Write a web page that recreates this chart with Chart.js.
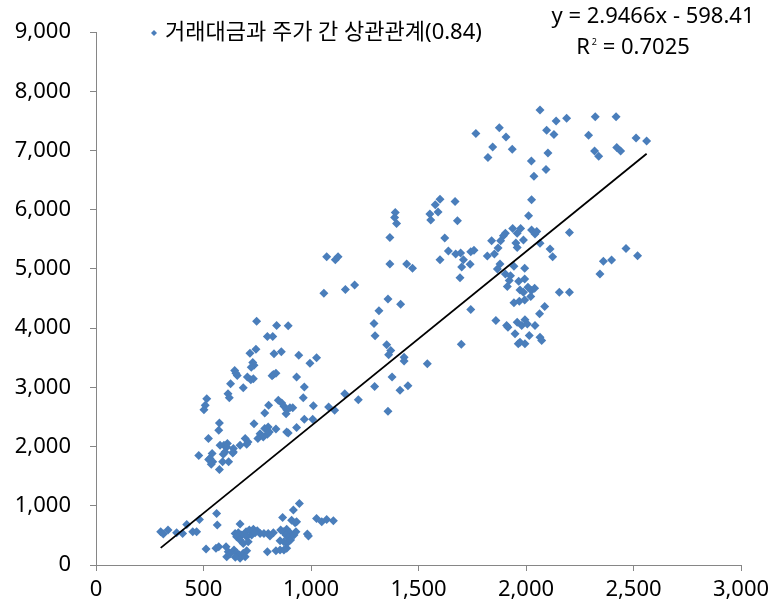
<!DOCTYPE html>
<html>
<head>
<meta charset="utf-8">
<script src="https://cdn.jsdelivr.net/npm/chart.js@4/dist/chart.umd.min.js"></script>
<style>
  html, body { margin: 0; padding: 0; background: #fff; }
  #wrap { width: 770px; height: 605px; }
</style>
</head>
<body>
<div id="wrap"><canvas id="scatter-chart" width="770" height="605"></canvas></div>
<script>
// 거래대금 (x) vs 주가 (y)
var tradeValue = [
    2065, 1767, 1876, 1907, 1845, 1823, 1936, 2140, 2189, 2096, 2130, 2102, 2025, 2037, 2093, 2026, 2012,
    2291, 2322, 2419, 2319, 2338, 2422, 2440, 2512, 2561, 2202,
    1600, 1670, 1681, 1622, 1600, 1639, 1673, 1696, 1743, 1758, 1709, 1740, 1701, 1693, 1743, 1699,
    1820, 1840, 1853, 1870, 1882, 1895, 1904, 1938, 1953, 1959, 1959, 1975, 1988, 2026, 2050, 2042, 2065,
    2112, 2124, 1879, 1867, 1944, 1994, 1904, 1928, 1922, 1913, 1966, 1994, 1972, 1988, 2009, 2025, 2040,
    2022, 1994, 1969, 1944, 2087, 2063, 2155, 2202, 1860, 1910, 1916, 1959, 1995, 1980, 2006, 2042, 1949,
    2015, 2065, 2073, 1964, 1995, 1972, 2465, 2360, 2398, 2344, 2519,
    1578, 1553, 1591, 1557, 1392, 1389, 1398, 1367, 1367, 1445, 1472, 1073, 1113, 1126, 1060, 1160, 1203,
    1358, 1417, 1316, 1293, 1298, 1352, 1371, 1361, 1433, 1433, 1541, 1377, 1296, 1414, 1451, 1358, 1157,
    1220, 1026, 995, 1011, 1082, 1110, 969, 964, 969, 1008,
    747, 840, 894, 797, 822, 716, 744, 828, 862, 943, 729, 735, 722, 645, 657, 651, 704, 720, 732, 825,
    837, 819, 933, 626, 685, 614, 620, 515, 508, 502, 848, 864, 874, 887, 884, 902, 803, 785, 915, 933,
    887, 894, 837, 785, 801, 763, 778, 797, 806, 753, 735, 694, 707, 701, 670, 639, 639, 611, 608, 595,
    574, 571, 523, 577, 600, 592, 636, 478, 540, 530, 543, 536, 524, 589, 617, 574,
    301, 313, 335, 375, 403, 422, 450, 468, 481, 561, 564, 512, 558, 571, 605, 615, 608, 623, 642, 654,
    667, 685, 670, 648, 701, 694, 647, 662, 678, 654, 670, 670, 698, 713, 732, 750, 763, 724, 740, 701,
    685, 708, 781, 801, 825, 809, 797, 837, 856, 868, 859, 871, 887, 902, 884, 895, 874, 856, 887, 905,
    921, 930, 910, 926, 933, 918, 946, 887, 874, 983, 988, 1026, 1050, 1073, 1104
];
var stockPrice = [
    7686, 7287, 7388, 7231, 7062, 6882, 7023, 7500, 7546, 7343, 7270, 6961, 6826, 6568, 6680, 6169, 5899,
    7259, 7573, 7573, 6995, 6905, 7051, 6995, 7214, 7163, 5618,
    6180, 6141, 5815, 5523, 5158, 5304, 5253, 5270, 5292, 5315, 5158, 5079, 5034, 4854, 4315, 3730,
    5219, 5478, 5253, 5354, 5478, 5562, 5602, 5686, 5439, 5365, 5602, 5686, 5489, 5658, 5635, 5591, 5433,
    5337, 5208, 5085, 5000, 5045, 5011, 4916, 4888, 4804, 4703, 4792, 4832, 4647, 4607, 4691, 4635, 4674,
    4534, 4478, 4455, 4428, 4366, 4242, 4607, 4607, 4129, 4045, 4017, 4101, 4141, 4045, 4073, 4045, 3905,
    3877, 3849, 3792, 3737, 3737, 3764, 5348, 5129, 5152, 4916, 5225,
    6085, 5928, 5962, 5827, 5955, 5871, 5770, 5534, 5085, 5085, 5011, 5208, 5158, 5208, 4590, 4652, 4731,
    4495, 4404, 4293, 4079, 3871, 3720, 3624, 3551, 3511, 3444, 3399, 3174, 3017, 2950, 3028, 2596, 2894,
    2793, 3501, 3410, 2692, 2669, 2612, 3006, 2826, 2461, 2461,
    4118, 4045, 4040, 3860, 3860, 3578, 3646, 3568, 3602, 3545, 3422, 3376, 3342, 3287, 3202, 3241, 3174, 3130, 3147, 3219,
    3241, 3197, 3174, 3062, 2995, 2894, 2826, 2810, 2697, 2624, 2781, 2736, 2680, 2624, 2557, 2658, 2697, 2567, 2658, 2321,
    2247, 2230, 2298, 2304, 2331, 2219, 2163, 2208, 2247, 2135, 2388, 2135, 2079, 2039, 2023, 1967, 1910, 2051, 1995, 2023,
    2399, 2275, 2135, 2023, 1910, 1871, 1893, 1849, 1883, 1798, 1742, 1702, 1781, 1742, 1742, 1613,
    562, 523, 590, 545, 534, 686, 562, 562, 770, 871, 674, 270, 281, 308, 308, 224, 140, 185, 253, 208,
    169, 197, 113, 130, 241, 140, 534, 545, 506, 477, 421, 691, 562, 590, 602, 579, 534, 506, 545, 477,
    365, 393, 534, 534, 545, 489, 224, 241, 253, 803, 590, 562, 602, 545, 506, 466, 393, 410, 365, 421,
    506, 562, 758, 714, 730, 927, 1039, 281, 253, 523, 489, 787, 730, 770, 747
];

// 추세선 y = 2.9466x - 598.41
var slope = 2.9466;
var intercept = -598.41;
var rSquared = 0.7025;

var points = [];
for (var i = 0; i < tradeValue.length; i++) {
    points.push({ x: tradeValue[i], y: stockPrice[i] });
}
var xMin = Math.min.apply(null, tradeValue);
var xMax = Math.max.apply(null, tradeValue);
var trendPoints = [
    { x: xMin, y: slope * xMin + intercept },
    { x: xMax, y: slope * xMax + intercept }
];

var dotColor = '#4A7EBB';
var axisColor = '#868686';
var textFont = '"Noto Sans", "Noto Sans CJK KR", sans-serif';

// legend + trendline equation drawn on top
var labelPlugin = {
    id: 'labelPlugin',
    afterDraw: function (chart) {
        var c = chart.ctx;
        c.save();
        c.fillStyle = dotColor;
        c.beginPath();
        c.moveTo(154, 30);
        c.lineTo(157, 33);
        c.lineTo(154, 36);
        c.lineTo(151, 33);
        c.closePath();
        c.fill();

        c.fillStyle = '#000';
        c.textBaseline = 'middle';
        c.font = '22px ' + textFont;
        c.textAlign = 'left';
        c.fillText(chart.data.datasets[0].label, 165, 33);

        c.textAlign = 'center';
        c.fillText('y = ' + slope + 'x - ' + Math.abs(intercept), 653, 17);

        var left = 'R', right = ' = ' + rSquared;
        var wl = c.measureText(left).width;
        var wr = c.measureText(right).width;
        c.font = '9px ' + textFont;
        var ws = c.measureText('2').width + 2;
        var start = 633 - (wl + ws + wr) / 2;
        c.textAlign = 'left';
        c.fillText('2', start + wl + 2, 42);
        c.font = '22px ' + textFont;
        c.fillText(left, start, 48);
        c.fillText(right, start + wl + ws, 48);
        c.restore();
    }
};

var tickFont = { family: textFont, size: 22 };

new Chart(document.getElementById('scatter-chart'), {
    type: 'scatter',
    data: {
        datasets: [{
            label: '거래대금과 주가 간 상관관계(0.84)',
            data: points,
            pointStyle: 'rectRot',
            pointRadius: 4.5,
            pointBackgroundColor: dotColor,
            pointBorderColor: dotColor,
            pointBorderWidth: 0,
            order: 1
        }, {
            label: 'trend',
            data: trendPoints,
            showLine: true,
            borderColor: '#000',
            borderWidth: 1.8,
            pointRadius: 0,
            fill: false,
            order: 0
        }]
    },
    options: {
        responsive: false,
        animation: false,
        layout: { padding: { top: 31, right: 0, bottom: 0, left: 0 } },
        plugins: {
            legend: { display: false },
            tooltip: { enabled: false }
        },
        scales: {
            x: {
                type: 'linear',
                min: 0,
                max: 3000,
                ticks: {
                    stepSize: 500,
                    color: '#000',
                    font: tickFont,
                    padding: 6,
                    maxRotation: 0,
                    callback: function (v) { return v.toLocaleString('en-US'); }
                },
                grid: { drawOnChartArea: false, drawTicks: true, tickLength: 6, color: axisColor },
                border: { color: axisColor, width: 1 },
                afterFit: function (scale) {
                    scale.height = 40;
                    scale.paddingRight = 29;
                }
            },
            y: {
                min: 0,
                max: 9000,
                ticks: {
                    stepSize: 1000,
                    color: '#000',
                    font: tickFont,
                    padding: 19,
                    callback: function (v) { return v.toLocaleString('en-US'); }
                },
                grid: { drawOnChartArea: false, drawTicks: true, tickLength: 6, color: axisColor },
                border: { color: axisColor, width: 1 },
                afterFit: function (scale) { scale.width = 96; }
            }
        }
    },
    plugins: [labelPlugin]
});
</script>
</body>
</html>
